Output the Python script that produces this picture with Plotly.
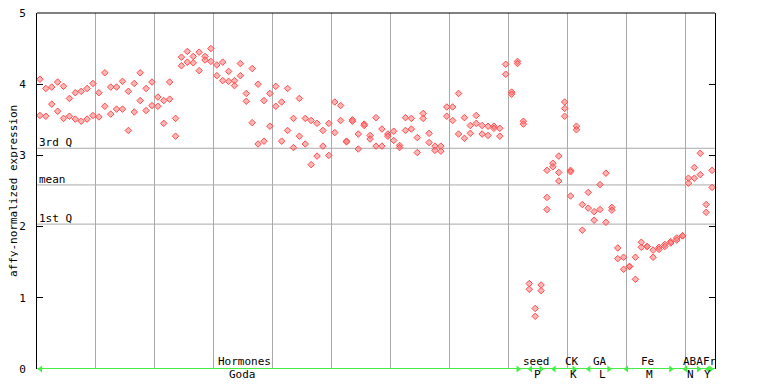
import plotly.graph_objects as go

# ---- data: expression values per sample slot (left to right) ----
slot_values = [
    [4.07, 3.56], [3.94, 3.55], [3.96, 3.72], [4.03, 3.62], [3.97, 3.52],
    [3.80, 3.55], [3.88, 3.51], [3.90, 3.48], [3.94, 3.51], [4.01, 3.56],
    [3.88, 3.54], [4.16, 3.69], [3.96, 3.58], [3.96, 3.65], [4.04, 3.65],
    [3.90, 3.35], [4.01, 3.61], [4.16, 3.77], [3.94, 3.63], [4.03, 3.70],
    [3.82, 3.69], [3.77, 3.45], [4.03, 3.79], [3.52, 3.27], [4.38, 4.26],
    [4.46, 4.31], [4.39, 4.30], [4.45, 4.19], [4.39, 4.34], [4.50, 4.32],
    [4.27, 4.12], [4.31, 4.05], [4.18, 4.04], [4.05, 3.98], [4.29, 4.12],
    [3.87, 3.76], [4.22, 3.46], [4.00, 3.16], [3.77, 3.20], [3.87, 3.41],
    [3.97, 3.69], [3.75, 3.20], [3.94, 3.35], [3.52, 3.11], [3.80, 3.27],
    [3.52, 3.16], [3.49, 2.87], [3.45, 2.99], [3.35, 3.13], [3.45, 3.00],
    [3.75, 3.32], [3.70, 3.49], [3.20, 3.19], [3.50, 3.48], [3.30, 3.09],
    [3.44, 3.42], [3.28, 3.23], [3.53, 3.13], [3.37, 3.13], [3.30, 3.27],
    [3.34, 3.21], [3.14, 3.11], [3.53, 3.35], [3.52, 3.37], [3.25, 3.04],
    [3.59, 3.52], [3.31, 3.18], [3.13, 3.07], [3.13, 3.06], [3.68, 3.55],
    [3.68, 3.49], [3.87, 3.30], [3.53, 3.24], [3.42, 3.31], [3.56, 3.45],
    [3.42, 3.30], [3.41, 3.28], [3.41, 3.38], [3.38, 3.27], [4.28, 4.14],
    [3.89, 3.86], [4.32, 4.29], [3.48, 3.44], [1.20, 1.12], [0.85, 0.74],
    [1.18, 1.10], [2.79, 2.41, 2.24], [2.89, 2.84], [2.99, 2.76, 2.64],
    [3.75, 3.66, 3.55], [2.79, 2.77, 2.43], [3.41, 3.36], [2.31, 1.95],
    [2.48, 2.26], [2.21, 2.09], [2.59, 2.24], [2.75, 2.06], [2.27, 2.23],
    [1.70, 1.55], [1.57, 1.40], [1.44, 1.44], [1.57, 1.26], [1.78, 1.71],
    [1.72, 1.72], [1.67, 1.57], [1.71, 1.68], [1.75, 1.72], [1.79, 1.77],
    [1.84, 1.81], [1.87, 1.87], [2.68, 2.61], [2.83, 2.68], [3.03, 2.73],
    [2.31, 2.20], [2.79, 2.55],
]

quartile_names = ["3rd Q", "mean", "1st Q"]
quartile_values = [3.10, 2.585, 2.035]

group_names = ["Hormones", "seed", "CK", "GA", "Fe", "ABA", "Fr"]
group_sources = ["Goda", "P", "K", "L", "M", "N", "Y"]
group_starts = [-0.5, 82.6, 86.6, 92.5, 98.9, 108.9, 112.7]
group_ends = [81.7, 85.6, 91.2, 97.1, 107.6, 112.3, 114.4]

# label centres (in slot units)
name_pos = [34.7, 84.25, 90.2, 95.0, 103.0, 110.7, 113.6]
source_pos = [34.3, 84.4, 90.5, 95.4, 103.4, 110.3, 113.3]

y_ticks = [0, 1, 2, 3, 4, 5]

# ---- build traces ----
xs, ys = [], []
for i, vals in enumerate(slot_values):
    for v in vals:
        xs.append(i)
        ys.append(v)

RED = "#ff4c4c"
GREEN = "#44ee44"
GRID = "#aaaaaa"
FONT = "DejaVu Sans Mono"

fig = go.Figure()
fig.add_trace(go.Scatter(
    x=xs, y=ys, mode="markers",
    marker=dict(symbol="diamond", size=5, color="rgba(255,120,120,0.55)",
                line=dict(color=RED, width=1)),
    cliponaxis=False, showlegend=False, hoverinfo="skip",
))

# green group arrows on baseline
ax, ay, asym = [], [], []
for s, e in zip(group_starts, group_ends):
    ax += [s + 0.6, e - 0.6]
    ay += [0, 0]
    asym += ["triangle-left", "triangle-right"]
fig.add_trace(go.Scatter(
    x=ax, y=ay, mode="markers",
    marker=dict(symbol=asym, size=6, color=GREEN),
    cliponaxis=False, showlegend=False, hoverinfo="skip",
))

shapes = []
for qv in quartile_values:
    shapes.append(dict(type="line", xref="paper", x0=0, x1=1, yref="y",
                       y0=qv, y1=qv, line=dict(color=GRID, width=1),
                       layer="below"))
# top border
shapes.append(dict(type="line", xref="paper", x0=0, x1=1, yref="paper",
                   y0=1, y1=1, line=dict(color="black", width=1)))
# green baseline
shapes.append(dict(type="line", xref="x", x0=-0.5, x1=114.5, yref="y",
                   y0=0, y1=0, line=dict(color=GREEN, width=2)))

annotations = []
for name, qv in zip(quartile_names, quartile_values):
    annotations.append(dict(text=name, xref="paper", x=0, xanchor="left",
                            yref="y", y=qv, yanchor="bottom", yshift=-3,
                            showarrow=False, font=dict(family=FONT, size=11)))
for n, p in zip(group_names, name_pos):
    annotations.append(dict(text=n, xref="x", x=p, yref="paper", y=0,
                            yanchor="middle", yshift=8, showarrow=False,
                            font=dict(family=FONT, size=11)))
for n, p in zip(group_sources, source_pos):
    annotations.append(dict(text=n, xref="x", x=p, yref="paper", y=0,
                            yanchor="middle", yshift=-5.5, showarrow=False,
                            font=dict(family=FONT, size=11)))
annotations.append(dict(text="affy-normalized expression", xref="paper",
                        x=0, xanchor="center", xshift=-24,
                        yref="paper", y=0.5, textangle=-90,
                        height=10, borderpad=0,
                        showarrow=False, font=dict(family=FONT, size=11)))

fig.update_layout(
    width=768, height=384,
    margin=dict(l=29, r=61, t=5, b=23, autoexpand=False),
    paper_bgcolor="white", plot_bgcolor="white",
    font=dict(family=FONT, size=11, color="black"),
    xaxis=dict(range=[-0.5, 114.5], tickvals=[9.5 + 10 * k for k in range(11)],
               showgrid=True, gridcolor=GRID, gridwidth=1,
               showticklabels=False, ticks="", zeroline=False, showline=False,
               automargin=False, fixedrange=True),
    yaxis=dict(range=[0, 5], tickvals=y_ticks, ticks="inside", ticklen=6,
               tickcolor="black", showline=True, linecolor="black",
               linewidth=1, mirror="ticks", showgrid=False, zeroline=False,
               ticklabelstandoff=8, ticklabeloverflow="allow",
               automargin=False, fixedrange=True),
    shapes=shapes, annotations=annotations,
)

fig.write_html("out.html")
